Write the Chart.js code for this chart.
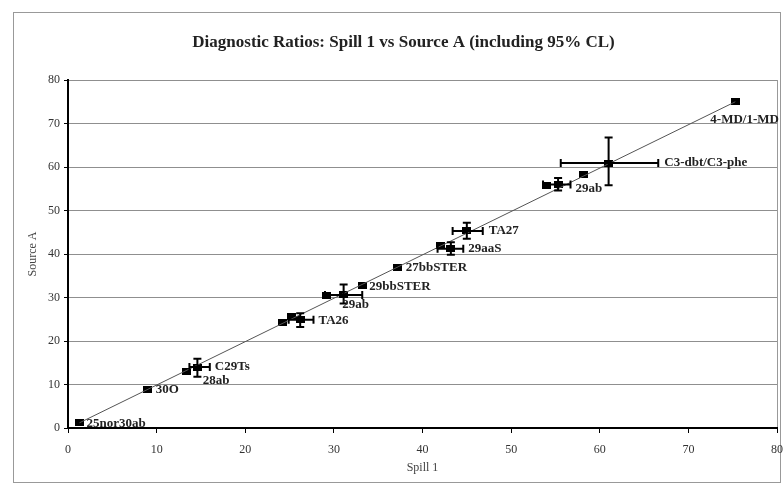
<!DOCTYPE html>
<html>
<head>
<meta charset="utf-8">
<script src="https://cdn.jsdelivr.net/npm/chart.js@4/dist/chart.umd.min.js"></script>
<style>
  html, body { margin: 0; padding: 0; background: #fff; }
</style>
</head>
<body>
<canvas id="chart" width="783" height="488"></canvas>
<script>
// ratios plotted as plain markers (Spill 1 = x, Source A = y)
const plainX = [1.3, 9.0, 13.4, 24.2, 25.2, 29.2, 33.2, 37.2, 42.0, 54.0, 58.2, 75.3];
const plainY = [1.2, 8.8, 12.9, 24.2, 25.6, 30.5, 32.8, 37.0, 41.9, 55.8, 58.2, 75.0];
const plainLabels = ['25nor30ab', '30O', '28ab', '', '', '', '29bbSTER', '27bbSTER', '', '', '', '4-MD/1-MD'];

// ratios with 95% CL on both axes
const ciX     = [14.6, 26.2, 31.1, 43.2, 45.0, 55.3, 61.0];
const ciY     = [14.0, 24.9, 30.6, 41.2, 45.3, 56.0, 60.9];
const ciXLow  = [13.7, 24.9, 29.0, 41.7, 43.4, 53.6, 55.6];
const ciXHigh = [16.0, 27.7, 33.2, 44.6, 46.8, 56.7, 66.6];
const ciYLow  = [11.8, 23.2, 28.6, 39.8, 43.5, 54.6, 55.8];
const ciYHigh = [15.9, 26.4, 33.0, 42.7, 47.2, 57.5, 66.8];
const ciLabels = ['C29Ts', 'TA26', '29ab', '29aaS', 'TA27', '29ab', 'C3-dbt/C3-phe'];

// 1:1 trend line
const fitX = [1.3, 75.3];
const fitY = [1.2, 75.0];

const ticksX = [0, 10, 20, 30, 40, 50, 60, 70, 80];

// label nudges in px (plain: from marker, ci: from right end of x error bar)
const plainNudge = [[7, 1], [8, 0], [16, 9], null, null, null, [7, 1], [8, 1], null, null, null, [-25, 18]];
const ciNudge = [[5, 0], [5, 1], [-20, 10], [5, 0], [6, 0], [5, 4], [6, 0]];

const serif = '"Liberation Serif", "Times New Roman", serif';

const marker = document.createElement('canvas');
marker.width = 9; marker.height = 7;
const mctx = marker.getContext('2d');
mctx.fillStyle = '#000';
mctx.fillRect(0, 0, 9, 7);

const frame = {
  id: 'frame',
  beforeDraw(chart) {
    const ctx = chart.ctx;
    ctx.save();
    ctx.fillStyle = '#fff';
    ctx.fillRect(0, 0, chart.width, chart.height);
    ctx.strokeStyle = '#999';
    ctx.lineWidth = 1;
    ctx.strokeRect(13.5, 12.5, 767, 470);
    ctx.restore();
  }
};

const errorBars = {
  id: 'errorBars',
  afterDatasetsDraw(chart) {
    const {ctx, scales: {x, y}} = chart;
    const cap = 4;
    ctx.save();
    ctx.strokeStyle = '#000';
    ctx.lineWidth = 2;
    ciX.forEach((v, i) => {
      const px = x.getPixelForValue(v), py = y.getPixelForValue(ciY[i]);
      const x0 = x.getPixelForValue(ciXLow[i]), x1 = x.getPixelForValue(ciXHigh[i]);
      const y0 = y.getPixelForValue(ciYLow[i]), y1 = y.getPixelForValue(ciYHigh[i]);
      ctx.beginPath();
      ctx.moveTo(x0, py); ctx.lineTo(x1, py);
      ctx.moveTo(x0, py - cap); ctx.lineTo(x0, py + cap);
      ctx.moveTo(x1, py - cap); ctx.lineTo(x1, py + cap);
      ctx.moveTo(px, y0); ctx.lineTo(px, y1);
      ctx.moveTo(px - cap, y0); ctx.lineTo(px + cap, y0);
      ctx.moveTo(px - cap, y1); ctx.lineTo(px + cap, y1);
      ctx.stroke();
    });
    ctx.restore();
  }
};

const pointLabels = {
  id: 'pointLabels',
  afterDatasetsDraw(chart) {
    const {ctx, scales: {x, y}} = chart;
    ctx.save();
    ctx.font = 'bold 13px ' + serif;
    ctx.fillStyle = '#222';
    ctx.textAlign = 'left';
    ctx.textBaseline = 'middle';
    plainLabels.forEach((t, i) => {
      if (!t) return;
      const n = plainNudge[i];
      ctx.fillText(t, x.getPixelForValue(plainX[i]) + n[0], y.getPixelForValue(plainY[i]) + n[1]);
    });
    ciLabels.forEach((t, i) => {
      const n = ciNudge[i];
      ctx.fillText(t, x.getPixelForValue(ciXHigh[i]) + n[0], y.getPixelForValue(ciY[i]) + n[1]);
    });
    ctx.restore();
  }
};

new Chart(document.getElementById('chart'), {
  type: 'scatter',
  data: {
    datasets: [
      {
        type: 'line',
        label: '1:1',
        data: fitX.map((v, i) => ({x: v, y: fitY[i]})),
        borderColor: '#555',
        borderWidth: 1,
        pointRadius: 0,
        fill: false
      },
      {
        label: 'Ratios',
        data: plainX.map((v, i) => ({x: v, y: plainY[i]})),
        pointStyle: marker,
        backgroundColor: '#000'
      },
      {
        label: 'Ratios with 95% CL',
        data: ciX.map((v, i) => ({x: v, y: ciY[i]})),
        pointStyle: marker,
        backgroundColor: '#000'
      }
    ]
  },
  options: {
    responsive: false,
    animation: false,
    layout: { padding: { left: 24, right: 0, top: 0, bottom: 0 } },
    plugins: {
      legend: { display: false },
      tooltip: { enabled: false },
      title: {
        display: true,
        text: 'Diagnostic Ratios: Spill 1 vs Source A (including 95% CL)',
        color: '#222',
        font: { family: serif, size: 17, weight: 'bold' },
        padding: { top: 32, bottom: 27.6 }
      }
    },
    scales: {
      x: {
        type: 'linear',
        min: 0, max: 80,
        afterBuildTicks(scale) { scale.ticks = ticksX.map(v => ({value: v})); },
        afterFit(scale) { scale.height = 60; scale.paddingRight = 6; },
        ticks: { color: '#333', font: { family: serif, size: 12 }, padding: 10 },
        grid: {
          drawOnChartArea: true,
          color: ctx => ctx.tick && ctx.tick.value === 80 ? '#999' : 'rgba(0,0,0,0)',
          tickColor: '#000',
          tickLength: 5
        },
        border: { color: '#000', width: 2 },
        title: {
          display: true, text: 'Spill 1', color: '#444',
          font: { family: serif, size: 12 },
          padding: { top: 0, bottom: 12.8 }
        }
      },
      y: {
        type: 'linear',
        min: 0, max: 80,
        ticks: { stepSize: 10, color: '#333', font: { family: serif, size: 12 }, padding: 4 },
        afterFit(scale) { scale.width = 44; },
        grid: { color: '#8f8f8f', lineWidth: 1, tickColor: '#000', tickLength: 4 },
        border: { color: '#000', width: 2 },
        title: {
          display: true, text: 'Source A', color: '#444',
          font: { family: serif, size: 12 },
          padding: { top: 2, bottom: 0 }
        }
      }
    }
  },
  plugins: [frame, errorBars, pointLabels]
});
</script>
</body>
</html>
